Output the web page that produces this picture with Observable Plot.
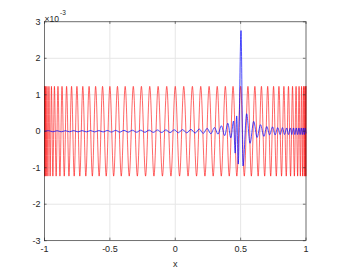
<!DOCTYPE html>
<html><head><meta charset="utf-8">
<script src="https://cdn.jsdelivr.net/npm/d3@7"></script>
<script src="https://cdn.jsdelivr.net/npm/@observablehq/plot@0.6"></script>
<style>body{margin:0;background:#fff} svg{font-family:"Liberation Sans",Arial,sans-serif}</style>
</head><body><div id="chart"></div>
<script>
const xTicks = [-1, -0.5, 0, 0.5, 1];
const yTicks = [-3, -2, -1, 0, 1, 2, 3];
const xTickLabels = ["-1", "-0.5", "0", "0.5", "1"];
const yTickLabels = ["-3", "-2", "-1", "0", "1", "2", "3"];
const yExponent = "-3";
const xLabel = "x";

// red curve: extrema (values in units of 1e-3)
const redAmplitude = 1.23;
const redTopX = [-1, -0.998, -0.991, -0.981, -0.966, -0.947, -0.924, -0.897, -0.866, -0.831, -0.793, -0.752, -0.707, -0.659, -0.609, -0.556, -0.5, -0.442, -0.383, -0.321, -0.259, -0.195, -0.131, -0.065, 0, 0.065, 0.131, 0.195, 0.259, 0.321, 0.383, 0.442, 0.5, 0.556, 0.609, 0.659, 0.707, 0.752, 0.793, 0.831, 0.866, 0.897, 0.924, 0.947, 0.966, 0.981, 0.991, 0.998, 1];
const redBottomX = [-0.9995, -0.995, -0.987, -0.974, -0.957, -0.936, -0.911, -0.882, -0.849, -0.813, -0.773, -0.730, -0.684, -0.634, -0.582, -0.528, -0.471, -0.413, -0.352, -0.290, -0.227, -0.163, -0.098, -0.033, 0.033, 0.098, 0.163, 0.227, 0.290, 0.352, 0.413, 0.471, 0.528, 0.582, 0.634, 0.684, 0.730, 0.773, 0.813, 0.849, 0.882, 0.911, 0.936, 0.957, 0.974, 0.987, 0.995, 0.9995];

// blue curve (values in units of 1e-3)
const blueX = [-1, -0.968, -0.936, -0.904, -0.872, -0.84, -0.808, -0.776, -0.744, -0.712, -0.68, -0.648, -0.616, -0.584, -0.552, -0.52, -0.488, -0.456, -0.424, -0.392, -0.36, -0.328, -0.296, -0.264, -0.232, -0.2, -0.168, -0.136, -0.104, -0.072, -0.04, -0.008, 0.024, 0.056, 0.088, 0.12, 0.152, 0.184, 0.214, 0.244, 0.272, 0.3, 0.327, 0.353, 0.378, 0.402, 0.425, 0.446, 0.458, 0.47, 0.482, 0.503, 0.518, 0.546, 0.572, 0.6, 0.626, 0.652, 0.678, 0.7, 0.722, 0.744, 0.764, 0.784, 0.802, 0.82, 0.836, 0.852, 0.866, 0.88, 0.892, 0.904, 0.915, 0.926, 0.936, 0.946, 0.955, 0.964, 0.972, 0.98, 0.987, 0.994, 1];
const blueY = [0, 0.015, -0.015, 0.015, -0.015, 0.015, -0.015, 0.018, -0.018, 0.018, -0.018, 0.02, -0.02, 0.02, -0.02, 0.022, -0.022, 0.025, -0.025, 0.025, -0.025, 0.028, -0.028, 0.03, -0.03, 0.032, -0.032, 0.035, -0.035, 0.038, -0.038, 0.04, -0.04, 0.045, -0.045, 0.05, -0.05, 0.06, -0.06, 0.08, -0.07, 0.1, -0.08, 0.15, -0.12, 0.22, -0.18, 0.28, -0.6, 0.42, -0.9, 2.76, -0.95, 0.48, -0.33, 0.27, -0.17, 0.18, -0.14, 0.13, -0.1, 0.12, -0.1, 0.1, -0.09, 0.1, -0.09, 0.09, -0.09, 0.09, -0.09, 0.09, -0.09, 0.09, -0.09, 0.09, -0.09, 0.09, -0.09, 0.09, -0.09, 0.09, -0.05];

const red = [
  ...redTopX.map(x => ({x, y: redAmplitude})),
  ...redBottomX.map(x => ({x, y: -redAmplitude}))
].sort((a, b) => a.x - b.x);
const blue = blueX.map((x, i) => ({x, y: blueY[i]}));

const W = 338, H = 273, mL = 44, mR = 32.5, mT = 21.3, mB = 32.8;
const ph = H - mT - mB, pw = W - mL - mR, tk = 2.6;
const axisColor = "#262626";

const chart = Plot.plot({
  width: W, height: H,
  marginLeft: mL, marginRight: mR, marginTop: mT, marginBottom: mB,
  style: {fontSize: "9px", color: axisColor, fontFamily: "'Liberation Sans', Arial, sans-serif", background: "#fff"},
  x: {domain: [-1, 1]},
  y: {domain: [-3, 3]},
  marks: [
    Plot.ruleX(xTicks, {stroke: "#e6e6e6"}),
    Plot.ruleY(yTicks, {stroke: "#e6e6e6"}),
    Plot.line(red, {x: "x", y: "y", stroke: "#ff0000", strokeWidth: 0.6, curve: "monotone-x"}),
    Plot.line(blue, {x: "x", y: "y", stroke: "#0000ff", strokeWidth: 0.7, curve: "monotone-x"}),
    Plot.ruleX(xTicks, {insetTop: ph - tk, stroke: axisColor, strokeWidth: 0.6}),
    Plot.ruleX(xTicks, {insetBottom: ph - tk, stroke: axisColor, strokeWidth: 0.6}),
    Plot.ruleY(yTicks, {insetRight: pw - tk, stroke: axisColor, strokeWidth: 0.6}),
    Plot.ruleY(yTicks, {insetLeft: pw - tk, stroke: axisColor, strokeWidth: 0.6}),
    Plot.frame({stroke: axisColor, strokeWidth: 0.6}),
    Plot.axisX(xTicks, {tickSize: 0, tickPadding: 5, tickFormat: d => xTickLabels[xTicks.indexOf(d)], label: null}),
    Plot.axisY(yTicks, {tickSize: 0, tickPadding: 4, tickFormat: d => yTickLabels[yTicks.indexOf(d)], label: null}),
    Plot.text([xLabel], {frameAnchor: "bottom", dy: 26.5, fill: axisColor}),
    Plot.text(["×10"], {frameAnchor: "top-left", textAnchor: "start", dy: -6, fontSize: 8.5, fill: axisColor}),
    Plot.text([yExponent], {frameAnchor: "top-left", textAnchor: "start", dx: 15.5, dy: -11, fontSize: 6.5, fill: axisColor})
  ]
});
document.getElementById("chart").appendChild(chart);
</script>
</body></html>
